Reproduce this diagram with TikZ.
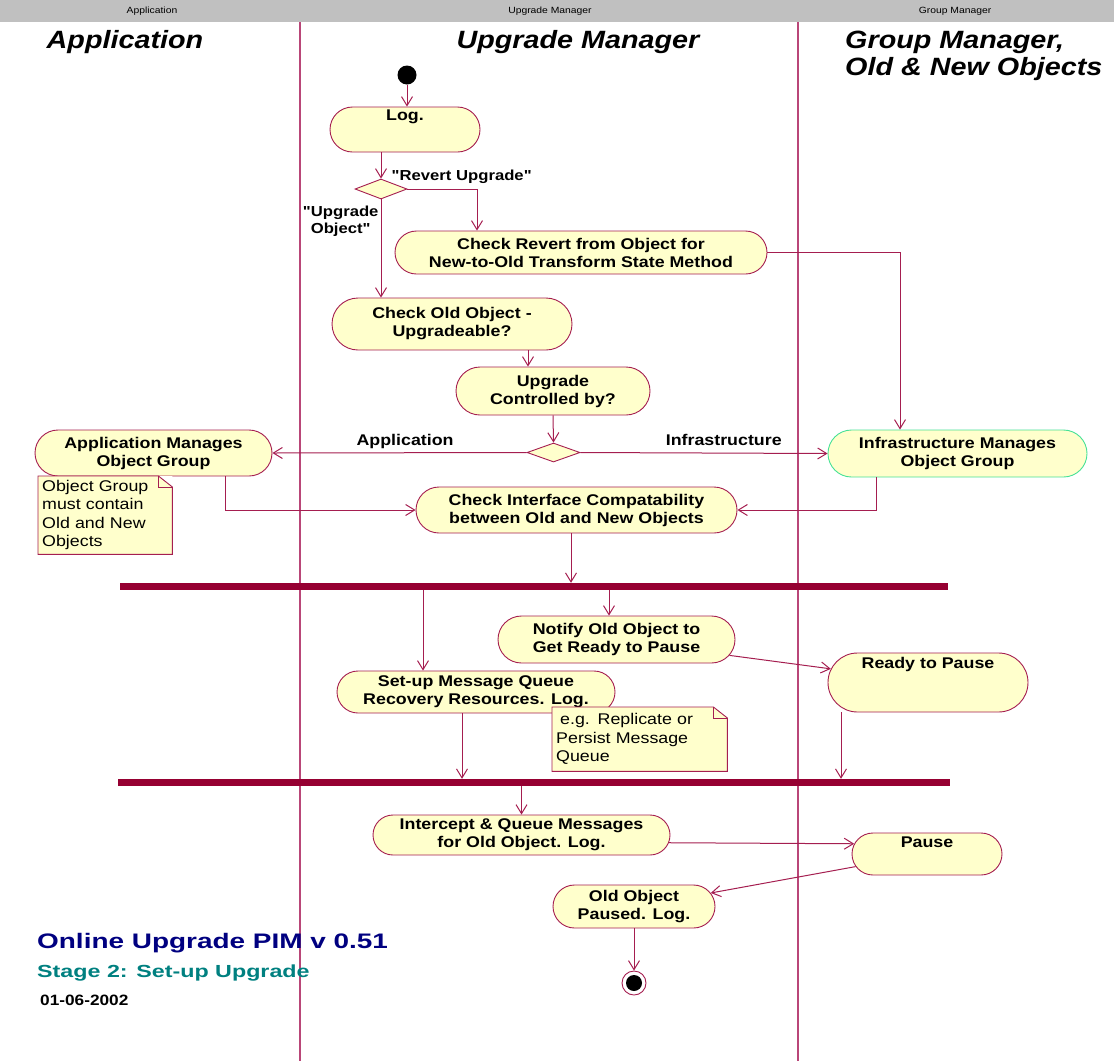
\documentclass[tikz,border=0pt]{standalone}
\usepackage{fontspec}
\setmainfont{Liberation Sans}
\newfontfamily\actfont[FakeStretch=1.15]{Liberation Sans}
\newfontfamily\titlefont[FakeStretch=1.33]{Liberation Sans}
\usepackage{tikz}
\usetikzlibrary{positioning,arrows.meta,shapes.misc,shapes.geometric}
\definecolor{colorline}   {RGB}{165,30,80}
\definecolor{colorlane}   {RGB}{185,70,120}
\definecolor{colorbar}    {RGB}{150,0,50}
\definecolor{colorfill}   {RGB}{255,255,204}
\definecolor{colorinfra}  {RGB}{70,225,150}
\definecolor{colorheader} {RGB}{192,192,192}
\definecolor{colortitle}  {RGB}{0,0,128}
\definecolor{colorstage}  {RGB}{0,128,128}

\begin{document}
\begin{tikzpicture}[
    x=1pt, y=-1pt,
    >={Straight Barb[length=9pt,width=11pt]},
    base/.style={font={\actfont\bfseries\fontsize{15.5}{18}\selectfont},align=center,inner sep=2pt},
    txt/.style={font={\actfont\bfseries\fontsize{14.5}{17}\selectfont},align=center,inner sep=2pt},
    activity/.style={base,rounded rectangle,draw=colorline,fill=colorfill,inner sep=0pt,line width=0.9pt},
    decision/.style={diamond,draw=colorline,fill=colorfill,inner sep=0pt,line width=0.9pt,minimum width=52pt,minimum height=20pt},
    sync/.style={rectangle,fill=colorbar,inner sep=0pt,minimum height=7pt},
    note/.style={rectangle,fill=colorfill,inner sep=4pt,align=left,font={\actfont\fontsize{15.5}{18.5}\selectfont}},
    fold/.style={draw=colorline,line width=0.9pt},
    lane/.style={font={\actfont\bfseries\itshape\fontsize{25}{27}\selectfont},inner sep=0pt},
    flow/.style={->,draw=colorline,line width=1pt},
]

    \useasboundingbox (0,0) rectangle (1114,1061);

    % Swimlanes
    \fill[colorheader] (0,0) rectangle (1114,22);
    \node[font={\actfont\fontsize{9}{10}\selectfont}] (hdapp)  at (152,11) {Application};
    \node[font={\actfont\fontsize{9}{10}\selectfont}] (hdupg)  at (550,11) {Upgrade Manager};
    \node[font={\actfont\fontsize{9}{10}\selectfont}] (hdgrp)  at (955,11) {Group Manager};
    \draw[colorlane,line width=1.4pt] (300,22) -- (300,1061);
    \draw[colorlane,line width=1.4pt] (798,22) -- (798,1061);
    \node[lane] (laneapp) at (125,42) {Application};
    \node[lane] (laneupg) at (578,42) {Upgrade Manager};
    \node[lane,anchor=west,align=left] (lanegrp) at (845,56) {Group Manager,\\Old \& New Objects};

    % Nodes
    \node[circle,fill=black,minimum size=19pt,inner sep=0pt] (start) at (407,75) {};
    \node[activity,minimum width=150pt,minimum height=45pt] (log)       at (405,129.5) {Log.\\[10pt]\mbox{}};
    \node[decision]                                         (dec1)      at (381,189)   {};
    \node[activity,minimum width=372pt,minimum height=43pt] (revert)    at (581,252.5) {Check Revert from Object for\\New-to-Old Transform State Method};
    \node[activity,minimum width=240pt,minimum height=52pt] (old)       at (452,324)   {Check Old Object -\\Upgradeable?};
    \node[activity,minimum width=194pt,minimum height=48pt] (ctrl)      at (553,391)   {Upgrade\\Controlled by?};
    \node[decision,minimum width=53pt,minimum height=19pt]  (dec2)      at (553.5,452.5) {};
    \node[activity,minimum width=237pt,minimum height=46pt] (appgrp)    at (153.5,453) {Application Manages\\Object Group};
    \node[activity,draw=colorinfra,minimum width=259pt,minimum height=47pt] (infgrp) at (957.5,453.5) {Infrastructure Manages\\Object Group};
    \node[activity,minimum width=321pt,minimum height=46pt] (iface)     at (576.5,510) {Check Interface Compatability\\between Old and New Objects};
    \node[note,text width=126pt,minimum height=76pt,anchor=north west] (note1) at (38,476) {Object Group\\must contain\\Old and New\\Objects};
    \node[sync,minimum width=828pt]                         (bar1)      at (534,586.5) {};
    \node[activity,minimum width=237pt,minimum height=47pt] (notify)    at (616.5,639.5) {Notify Old Object to\\Get Ready to Pause};
    \node[activity,minimum width=200pt,minimum height=59pt] (ready)     at (928,682.5) {Ready to Pause\\[22pt]\mbox{}};
    \node[activity,minimum width=278pt,minimum height=42pt] (setup)     at (476,692)   {Set-up Message Queue\\Recovery Resources. Log.};
    \node[note,text width=167pt,minimum height=64pt,anchor=north west] (note2) at (552,707) {\hspace{4pt}e.g. Replicate or\\Persist Message\\Queue};
    \node[sync,minimum width=832pt]                         (bar2)      at (534,782.5) {};
    \node[activity,minimum width=297pt,minimum height=40pt] (intercept) at (521.5,835) {Intercept \& Queue Messages\\for Old Object. Log.};
    \node[activity,minimum width=150pt,minimum height=42pt] (pause)     at (927,854)   {Pause\\[5pt]\mbox{}};
    \node[activity,minimum width=162pt,minimum height=43pt] (paused)    at (634,906.5) {Old Object\\Paused. Log.};
    \node[circle,draw=colorline,fill=white,line width=0.9pt,minimum size=24pt,inner sep=0pt,
          path picture={\fill[black] (path picture bounding box.center) circle (8pt);}] (stop) at (634,983) {};

    % Notes
    \fill[white] ([xshift=-14pt]note1.north east) -- (note1.north east) -- ([yshift=-11pt]note1.north east) -- cycle;
    \draw[fold] (note1.north west) -- ([xshift=-14pt]note1.north east) -- ([yshift=-11pt]note1.north east) -- (note1.south east) -- (note1.south west) -- cycle;
    \draw[fold] ([xshift=-14pt]note1.north east) -- ([xshift=-14pt,yshift=-11pt]note1.north east) -- ([yshift=-11pt]note1.north east);
    \fill[white] ([xshift=-14pt]note2.north east) -- (note2.north east) -- ([yshift=-11pt]note2.north east) -- cycle;
    \draw[fold] (note2.north west) -- ([xshift=-14pt]note2.north east) -- ([yshift=-11pt]note2.north east) -- (note2.south east) -- (note2.south west) -- cycle;
    \draw[fold] ([xshift=-14pt]note2.north east) -- ([xshift=-14pt,yshift=-11pt]note2.north east) -- ([yshift=-11pt]note2.north east);

    % Arrows
    \coordinate (revin)  at ([xshift=-104pt]revert.north);
    \coordinate (infin)  at ([xshift=-57.5pt]infgrp.north);
    \coordinate (oldout) at ([xshift=76pt]old.south);
    \coordinate (appout) at ([xshift=71.5pt]appgrp.south);
    \coordinate (infout) at ([xshift=-81.5pt]infgrp.south);
    \coordinate (setin)  at ([xshift=-53pt]setup.north);
    \coordinate (notin)  at ([xshift=-7.5pt]notify.north);
    \coordinate (rdyout) at ([xshift=-87pt]ready.south);
    \coordinate (setout) at ([xshift=-14pt]setup.south);
    \coordinate (ifcout) at ([xshift=-5.5pt]iface.south);

    \draw[flow] (start) -- (start |- log.north);
    \draw[flow] (dec1.north |- log.south) -- (dec1.north);
    \draw[flow] (dec1.east) -| node[txt,pos=0.39,yshift=12pt] {"Revert Upgrade"} (revin);
    \draw[flow] (dec1.south) -- node[txt,pos=0.22,anchor=east] {"Upgrade\\Object"} (dec1.south |- old.north);
    \draw[flow] (revert.east) -| (infin);
    \draw[flow] (oldout) -- (oldout |- ctrl.north);
    \draw[flow] (ctrl.south) -- (dec2.north);
    \draw[flow] (dec2.west) -- node[base,pos=0.478,anchor=base,yshift=7.5pt] {Application} (appgrp.east);
    \draw[flow] (dec2.east) -- node[base,pos=0.58,anchor=base,yshift=7.5pt] {Infrastructure} (infgrp.west);
    \draw[flow] (appout) |- (iface.west);
    \draw[flow] (infout) |- (iface.east);
    \draw[flow] (ifcout) -- (ifcout |- bar1.north);
    \draw[flow] (setin |- bar1.south) -- (setin);
    \draw[flow] (notin |- bar1.south) -- (notin);
    \draw[flow] (notify.-8) -- (ready.172);
    \draw[flow] (rdyout) -- (rdyout |- bar2.north);
    \draw[flow] (setout) -- (setout |- bar2.north);
    \draw[flow] (intercept.north |- bar2.south) -- (intercept.north);
    \draw[flow] (intercept.-3.5) -- (pause.172);
    \draw[flow] (pause.190) -- (paused.10);
    \draw[flow] (paused.south) -- (stop);

    % Text
    \node[anchor=west,inner sep=0pt,text=colortitle,font={\titlefont\bfseries\fontsize{21}{24}\selectfont}] (title) at (37,943) {Online Upgrade PIM v 0.51};
    \node[anchor=west,inner sep=0pt,text=colorstage,font={\titlefont\bfseries\fontsize{17.5}{20}\selectfont}] (stage) at (37,973) {Stage 2: Set-up Upgrade};
    \node[anchor=west,inner sep=0pt,font={\actfont\bfseries\fontsize{15}{17}\selectfont}] (date) at (40,1000) {01-06-2002};

\end{tikzpicture}
\end{document}
